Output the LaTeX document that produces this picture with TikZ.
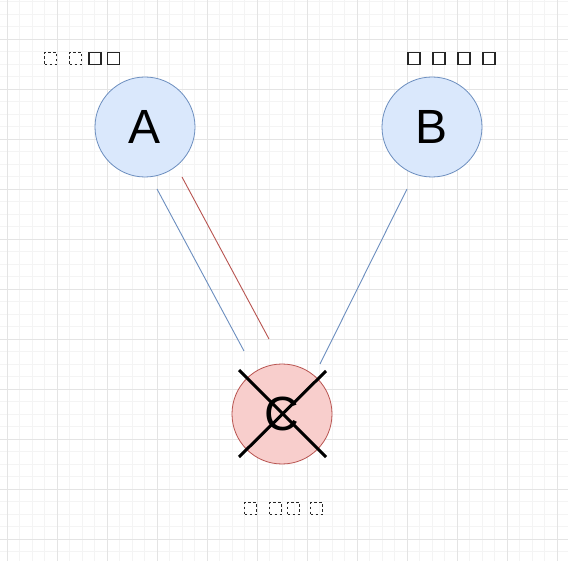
\documentclass[tikz,border=0pt]{standalone}
\usepackage{fontspec}
\setmainfont{Liberation Sans}
\definecolor{bluefill}{HTML}{DAE8FC}
\definecolor{bluedraw}{HTML}{6C8EBF}
\definecolor{redfill}{HTML}{F8CECC}
\definecolor{reddraw}{HTML}{B85450}
\definecolor{gridminor}{HTML}{F4F4F4}
\definecolor{gridmajor}{HTML}{E4E4E4}
\tikzset{
  bubble/.style={circle, minimum size=100pt, inner sep=0pt, line width=0.8pt, font=\fontsize{48}{48}\selectfont},
  bluebubble/.style={bubble, fill=bluefill, draw=bluedraw},
  redbubble/.style={bubble, fill=redfill, draw=reddraw},
  glyph/.style={draw=black!85, line width=1.6pt, minimum width=12pt, minimum height=12pt, inner sep=0pt},
  dglyph/.style={glyph, line width=1.3pt, dash pattern=on 2.5pt off 2.5pt},
  blueline/.style={draw=bluedraw, line width=0.9pt},
  redline/.style={draw=reddraw, line width=0.9pt},
  crossline/.style={draw=black, line width=3pt}
}
\begin{document}
\begin{tikzpicture}[x=1pt, y=-1pt]
\useasboundingbox (0,0) rectangle (568,561);
\fill[white] (0,0) rectangle (568,561);
% grid
\foreach \i in {0,...,45} {
  \draw[gridminor, line width=0.8pt] ({7+12.5*\i},0) -- ({7+12.5*\i},561);
  \draw[gridminor, line width=0.8pt] (0,{1.5+12.5*\i}) -- (568,{1.5+12.5*\i});
}
\foreach \i in {0,...,11} {
  \draw[gridmajor, line width=0.8pt] ({7+50*\i},0) -- ({7+50*\i},561);
  \draw[gridmajor, line width=0.8pt] (0,{39+50*(\i-1)}) -- (568,{39+50*(\i-1)});
}
% connectors
\coordinate (a1) at (157,189); \coordinate (c1) at (244,351);
\coordinate (a2) at (182,177); \coordinate (c2) at (269,339);
\coordinate (b1) at (407,189); \coordinate (c3) at (320,364);
\draw[blueline] (a1) -- (c1);
\draw[redline] (a2) -- (c2);
\draw[blueline] (b1) -- (c3);
% nodes
\node[bluebubble] (A) at (145,127) {A};
\node[bluebubble] (B) at (432,127) {B};
\node[redbubble] (C) at (282,414) {C};
% cross
\coordinate (x1) at (239,370); \coordinate (x2) at (326,457);
\coordinate (x3) at (239,457); \coordinate (x4) at (326,371);
\draw[crossline] (x1) -- (x2);
\draw[crossline] (x3) -- (x4);
% labels (unrendered glyph boxes)
\node[dglyph] (la1) at (50.7,58.5) {};
\node[dglyph] (la2) at (75.7,58.5) {};
\node[glyph] (la3) at (94.7,58.5) {};
\node[glyph] (la4) at (113.5,58.5) {};
\node[glyph] (lb1) at (414,58.5) {};
\node[glyph] (lb2) at (438.7,58.5) {};
\node[glyph] (lb3) at (464,58.5) {};
\node[glyph] (lb4) at (488.7,58.5) {};
\node[dglyph] (lc1) at (250.5,508.5) {};
\node[dglyph] (lc2) at (275.5,508.5) {};
\node[dglyph] (lc3) at (293.5,508.5) {};
\node[dglyph] (lc4) at (316.5,508.5) {};
\end{tikzpicture}
\end{document}
